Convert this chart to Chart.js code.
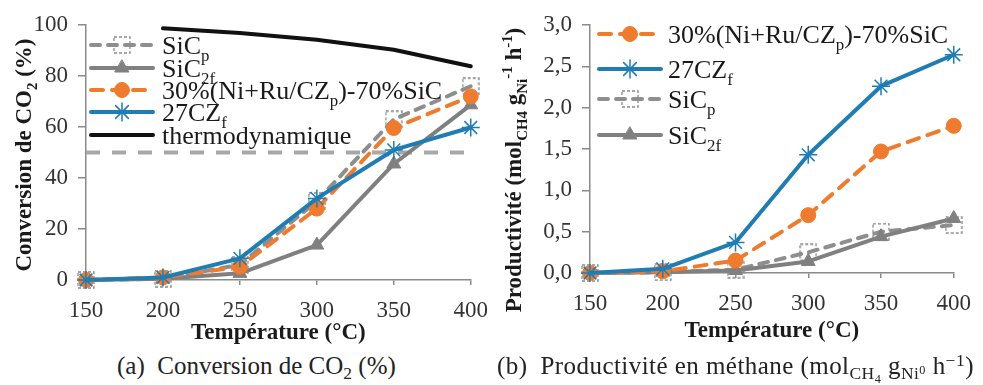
<!DOCTYPE html>
<html>
<head>
<meta charset="utf-8">
<script src="https://cdn.jsdelivr.net/npm/chart.js@4.4.1/dist/chart.umd.min.js"></script>
<style>
  body { margin: 0; background: #fff; width: 983px; height: 385px; overflow: hidden; position: relative; font-family: "Liberation Serif", serif; }
  .box { position: absolute; top: 0; height: 345px; }
  #boxA { left: 0; width: 500px; }
  #boxB { left: 490px; width: 493px; }
  .cap { position: absolute; top: 352px; line-height: 28px; font-size: 25px; color: #222; white-space: nowrap; }
  .cap sub { font-size: 0.7em; vertical-align: -0.3em; line-height: 0; }
  .cap sup { font-size: 0.7em; vertical-align: 0.45em; line-height: 0; }
  #capA { left: 117px; }
  #capB { left: 497px; letter-spacing: 0.45px; }
</style>
</head>
<body>
<div class="box" id="boxA"><canvas id="chartA"></canvas></div>
<div class="box" id="boxB"><canvas id="chartB"></canvas></div>
<div class="cap" id="capA">(a)&ensp;Conversion de CO<sub>2</sub> (%)</div>
<div class="cap" id="capB">(b)&ensp;Productivité en méthane (mol<sub>CH<sub>4</sub></sub> g<sub>Ni<sup>0</sup></sub> h<sup>−1</sup>)</div>
<script>
// temperatures (°C)
const temps = ['150', '200', '250', '300', '350', '400'];

// (a) conversion de CO2 (%)
const convSiCp = [0, 0.5, 6, 31, 63, 76];
const convSiC2f = [0, 0.5, 2.6, 13.7, 45.5, 68.7];
const convNiRu = [0, 1, 5.2, 28, 59.6, 72];
const conv27CZf = [0, 1, 8.5, 32, 51, 59.8];
const convThermo = [null, 98.7, 96.9, 94.2, 90.3, 83.8];
const convRef = [50, 50, 50, 50, 50, 50];

// (b) productivité (mol CH4 / g Ni / h)
const prodNiRu = [0, 0.02, 0.15, 0.70, 1.47, 1.78];
const prod27CZf = [0, 0.05, 0.37, 1.43, 2.26, 2.64];
const prodSiCp = [0, 0.01, 0.04, 0.25, 0.50, 0.58];
const prodSiC2f = [0, 0.01, 0.03, 0.14, 0.44, 0.66];

const ORANGE = '#EF7B2F';
const BLUE = '#1F7DB4';
const GREY = '#808080';
const GREY_D = '#8E8E8E';
const FAM = 'Liberation Serif';

Chart.defaults.font.family = FAM;

// dashed open square used for SiCp
function dashedSquare() {
  const c = document.createElement('canvas');
  c.width = 18; c.height = 18;
  const g = c.getContext('2d');
  g.strokeStyle = '#8a8a8a';
  g.lineWidth = 1.3;
  g.setLineDash([3, 2]);
  g.strokeRect(1, 1, 16, 16);
  return c;
}
const sqImg = dashedSquare();

// text with sub / sup pieces, y is the baseline
function drawRich(ctx, parts, x, y, size, bold, align) {
  const w = bold ? 'bold ' : '';
  const fs = (p) => (p[1] === 'n' ? size : size * 0.65);
  let total = 0;
  parts.forEach(p => { ctx.font = w + fs(p) + 'px "' + FAM + '"'; total += ctx.measureText(p[0]).width; });
  let cx = align === 'center' ? x - total / 2 : x;
  ctx.textAlign = 'left';
  ctx.textBaseline = 'alphabetic';
  parts.forEach(p => {
    ctx.font = w + fs(p) + 'px "' + FAM + '"';
    const dy = p[1] === 'sub' ? size * 0.28 : p[1] === 'sup' ? -size * 0.38 : 0;
    ctx.fillText(p[0], cx, y + dy);
    cx += ctx.measureText(p[0]).width;
  });
}

function makeLegend(cfg) {
  return {
    id: 'richLegend',
    afterDatasetsDraw(chart) {
      const ctx = chart.ctx;
      cfg.items.forEach((it, i) => {
        const ds = chart.data.datasets[it.ds];
        const y = cfg.rows[i];
        ctx.save();
        ctx.strokeStyle = ds.borderColor;
        ctx.lineWidth = ds.borderWidth;
        ctx.lineCap = 'round';
        ctx.setLineDash(ds.borderDash || []);
        ctx.beginPath();
        ctx.moveTo(cfg.x1, y);
        ctx.lineTo(cfg.x2, y);
        ctx.stroke();
        ctx.setLineDash([]);
        if (ds.pointRadius > 0) {
          ctx.fillStyle = ds.pointBackgroundColor;
          ctx.strokeStyle = ds.pointBorderColor;
          ctx.lineWidth = ds.pointBorderWidth;
          Chart.helpers.drawPoint(ctx, { pointStyle: ds.pointStyle, radius: ds.pointRadius, borderWidth: ds.pointBorderWidth, rotation: 0 }, (cfg.x1 + cfg.x2) / 2, y);
        }
        ctx.fillStyle = '#1a1a1a';
        drawRich(ctx, it.label, cfg.tx, y + 26 * 0.33, 26, false, 'left');
        ctx.restore();
      });
    }
  };
}

function makeTitles(cfg) {
  return {
    id: 'axisTitles',
    afterDraw(chart) {
      const ctx = chart.ctx;
      const a = chart.chartArea;
      ctx.save();
      ctx.fillStyle = '#1a1a1a';
      drawRich(ctx, [['Température (°C)', 'n']], (a.left + a.right) / 2, cfg.xTitleY, 23, true, 'center');
      ctx.translate(cfg.yTitleX, cfg.yTitleY);
      ctx.rotate(-Math.PI / 2);
      drawRich(ctx, cfg.yTitle, 0, 23 * 0.33, 23, true, 'center');
      ctx.restore();
    }
  };
}

function line(data, color, width, dash, style, radius, order, extra) {
  return Object.assign({
    data: data,
    borderColor: color,
    backgroundColor: color,
    borderWidth: width,
    borderDash: dash,
    borderCapStyle: 'round',
    borderJoinStyle: 'round',
    pointStyle: style,
    pointRadius: radius,
    pointHoverRadius: radius,
    pointBackgroundColor: color,
    pointBorderColor: color,
    pointBorderWidth: 1,
    tension: 0,
    clip: false,
    order: order
  }, extra || {});
}

function baseOptions(yMin, yMax, step, yWidth, xHeight, padRight, fmt) {
  const tickFont = { family: FAM, size: 23 };
  return {
    responsive: true,
    maintainAspectRatio: false,
    animation: false,
    layout: { padding: { top: 25, right: padRight, bottom: 0, left: 0 } },
    plugins: { legend: { display: false }, tooltip: { enabled: false } },
    scales: {
      x: {
        type: 'category',
        offset: false,
        grid: { display: true, drawOnChartArea: false, drawTicks: true, tickLength: 5, color: '#8a8a8a', lineWidth: 1.5 },
        border: { color: '#8a8a8a', width: 1.5 },
        ticks: { color: '#333', font: tickFont, padding: 12, maxRotation: 0, autoSkip: false },
        afterFit(s) { s.height = xHeight; }
      },
      y: {
        min: yMin, max: yMax,
        grid: { display: true, drawOnChartArea: false, drawTicks: true, tickLength: 8, color: '#8a8a8a', lineWidth: 1.5 },
        border: { color: '#8a8a8a', width: 1.5 },
        ticks: { stepSize: step, color: '#333', font: tickFont, padding: 10, callback: fmt },
        afterFit(s) { s.width = yWidth; }
      }
    }
  };
}

// (a)
new Chart(document.getElementById('chartA'), {
  type: 'line',
  data: {
    labels: temps,
    datasets: [
      line(convSiCp, GREY_D, 4, [9, 8], sqImg, 8, 3),
      line(convSiC2f, GREY, 4, [], 'triangle', 8, 2),
      line(convNiRu, ORANGE, 4, [12, 9], 'circle', 7.5, 1),
      line(conv27CZf, BLUE, 4, [], 'star', 9, 0, { pointBorderWidth: 1.5 }),
      line(convThermo, '#111111', 4, [], 'circle', 0, 4),
      line(convRef, '#A8A8A8', 4, [14, 12], 'circle', 0, 5, { borderCapStyle: 'butt' })
    ]
  },
  options: baseOptions(0, 100, 20, 86, 65, 24, v => v),
  plugins: [
    makeLegend({
      x1: 91, x2: 153, tx: 162, rows: [45, 68, 90, 112, 135],
      items: [
        { ds: 0, label: [['SiC', 'n'], ['p', 'sub']] },
        { ds: 1, label: [['SiC', 'n'], ['2f', 'sub']] },
        { ds: 2, label: [['30%(Ni+Ru/CZ', 'n'], ['p', 'sub'], [')-70%SiC', 'n']] },
        { ds: 3, label: [['27CZ', 'n'], ['f', 'sub']] },
        { ds: 4, label: [['thermodynamique', 'n']] }
      ]
    }),
    makeTitles({
      xTitleY: 339, yTitleX: 23, yTitleY: 155,
      yTitle: [['Conversion de CO', 'n'], ['2', 'sub'], [' (%)', 'n']]
    })
  ]
});

// (b)
new Chart(document.getElementById('chartB'), {
  type: 'line',
  data: {
    labels: temps,
    datasets: [
      line(prodNiRu, ORANGE, 4, [12, 9], 'circle', 7.5, 1),
      line(prod27CZf, BLUE, 4, [], 'star', 9, 0, { pointBorderWidth: 1.5 }),
      line(prodSiCp, GREY_D, 4, [9, 8], sqImg, 8, 3),
      line(prodSiC2f, GREY, 4, [], 'triangle', 8, 2)
    ]
  },
  options: baseOptions(0, 3, 0.5, 100, 72, 20, v => Number(v).toFixed(1).replace('.', ',')),
  plugins: [
    makeLegend({
      x1: 109, x2: 171, tx: 178, rows: [34, 69, 99, 135],
      items: [
        { ds: 0, label: [['30%(Ni+Ru/CZ', 'n'], ['p', 'sub'], [')-70%SiC', 'n']] },
        { ds: 1, label: [['27CZ', 'n'], ['f', 'sub']] },
        { ds: 2, label: [['SiC', 'n'], ['p', 'sub']] },
        { ds: 3, label: [['SiC', 'n'], ['2f', 'sub']] }
      ]
    }),
    makeTitles({
      xTitleY: 337, yTitleX: 23, yTitleY: 170,
      yTitle: [['Productivité (mol', 'n'], ['CH4', 'sub'], [' g', 'n'], ['Ni', 'sub'], ['-1', 'sup'], [' h', 'n'], ['-1', 'sup'], [')', 'n']]
    })
  ]
});
</script>
</body>
</html>
